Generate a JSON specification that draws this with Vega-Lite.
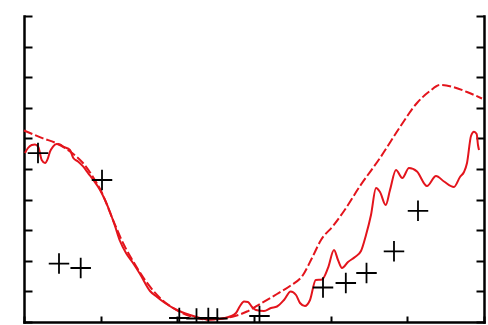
{
  "$schema": "https://vega.github.io/schema/vega-lite/v6.json",
  "width": 460,
  "height": 306,
  "autosize": {"type": "none"},
  "padding": {"left": 24, "top": 16, "right": 4, "bottom": 3},
  "background": "white",
  "config": {
    "view": {"stroke": null},
    "axis": {"labels": false, "title": null, "grid": false, "domainColor": "black", "domainWidth": 2.5, "tickColor": "black", "tickWidth": 2, "domainCap": "square"}
  },
  "datasets": {
    "dashed": [
      {"x": 0, "y": 6.258}, {"x": 0.496, "y": 6.003}, {"x": 0.861, "y": 5.833}, {"x": 1.2, "y": 5.572},
      {"x": 1.539, "y": 5.196}, {"x": 1.8, "y": 4.739}, {"x": 2.035, "y": 4.216}, {"x": 2.322, "y": 3.333},
      {"x": 2.583, "y": 2.582}, {"x": 2.843, "y": 1.993}, {"x": 3.157, "y": 1.373}, {"x": 3.47, "y": 0.882},
      {"x": 3.887, "y": 0.458}, {"x": 4.33, "y": 0.196}, {"x": 4.774, "y": 0.082}, {"x": 5.165, "y": 0.114},
      {"x": 5.504, "y": 0.196}, {"x": 5.817, "y": 0.343}, {"x": 6.157, "y": 0.588}, {"x": 6.6, "y": 0.915},
      {"x": 6.939, "y": 1.176}, {"x": 7.278, "y": 1.536}, {"x": 7.513, "y": 2.092}, {"x": 7.748, "y": 2.68},
      {"x": 8.061, "y": 3.137}, {"x": 8.348, "y": 3.627}, {"x": 8.765, "y": 4.444}, {"x": 9.287, "y": 5.359},
      {"x": 9.809, "y": 6.373}, {"x": 10.252, "y": 7.157}, {"x": 10.591, "y": 7.549}, {"x": 10.852, "y": 7.745},
      {"x": 11.191, "y": 7.68}, {"x": 11.557, "y": 7.516}, {"x": 11.948, "y": 7.304}
    ],
    "solid": [
      {"x": 0.026, "y": 5.523}, {"x": 0.104, "y": 5.686}, {"x": 0.201, "y": 5.784}, {"x": 0.287, "y": 5.801},
      {"x": 0.373, "y": 5.719}, {"x": 0.462, "y": 5.294}, {"x": 0.548, "y": 5.196}, {"x": 0.626, "y": 5.359},
      {"x": 0.678, "y": 5.565}, {"x": 0.757, "y": 5.735}, {"x": 0.853, "y": 5.817}, {"x": 0.939, "y": 5.801},
      {"x": 1.025, "y": 5.729}, {"x": 1.2, "y": 5.621}, {"x": 1.286, "y": 5.359}, {"x": 1.417, "y": 5.239},
      {"x": 1.547, "y": 5.075}, {"x": 1.677, "y": 4.859}, {"x": 1.808, "y": 4.641}, {"x": 1.983, "y": 4.314},
      {"x": 2.113, "y": 3.987}, {"x": 2.243, "y": 3.595}, {"x": 2.374, "y": 3.137}, {"x": 2.504, "y": 2.647},
      {"x": 2.661, "y": 2.255}, {"x": 2.843, "y": 1.928}, {"x": 3.026, "y": 1.569}, {"x": 3.287, "y": 1.013},
      {"x": 3.47, "y": 0.817}, {"x": 3.678, "y": 0.621}, {"x": 3.991, "y": 0.392}, {"x": 4.33, "y": 0.229},
      {"x": 4.591, "y": 0.131}, {"x": 4.852, "y": 0.082}, {"x": 5.113, "y": 0.098}, {"x": 5.374, "y": 0.18},
      {"x": 5.53, "y": 0.294}, {"x": 5.635, "y": 0.523}, {"x": 5.739, "y": 0.67}, {"x": 5.843, "y": 0.654},
      {"x": 5.948, "y": 0.49}, {"x": 6.052, "y": 0.392}, {"x": 6.261, "y": 0.359}, {"x": 6.443, "y": 0.458},
      {"x": 6.6, "y": 0.507}, {"x": 6.783, "y": 0.719}, {"x": 6.957, "y": 0.997}, {"x": 7.096, "y": 0.882},
      {"x": 7.2, "y": 0.621}, {"x": 7.33, "y": 0.523}, {"x": 7.461, "y": 0.719}, {"x": 7.61, "y": 1.373},
      {"x": 7.774, "y": 1.389}, {"x": 7.93, "y": 1.765}, {"x": 8.087, "y": 2.353}, {"x": 8.191, "y": 2.026},
      {"x": 8.296, "y": 1.765}, {"x": 8.452, "y": 1.961}, {"x": 8.635, "y": 2.124}, {"x": 8.791, "y": 2.32},
      {"x": 8.922, "y": 2.843}, {"x": 9.052, "y": 3.497}, {"x": 9.183, "y": 4.379}, {"x": 9.287, "y": 4.248},
      {"x": 9.436, "y": 3.824}, {"x": 9.548, "y": 4.314}, {"x": 9.704, "y": 4.967}, {"x": 9.869, "y": 4.706},
      {"x": 10.043, "y": 5.033}, {"x": 10.252, "y": 4.918}, {"x": 10.513, "y": 4.444}, {"x": 10.748, "y": 4.771},
      {"x": 10.957, "y": 4.592}, {"x": 11.217, "y": 4.412}, {"x": 11.374, "y": 4.739}, {"x": 11.478, "y": 4.902},
      {"x": 11.557, "y": 5.196}, {"x": 11.661, "y": 6.078}, {"x": 11.739, "y": 6.219}, {"x": 11.809, "y": 6.144},
      {"x": 11.843, "y": 5.784}, {"x": 11.87, "y": 5.621}
    ],
    "obs": [
      {"x": 0.365, "y": 5.52}, {"x": 0.913, "y": 1.91}, {"x": 1.479, "y": 1.765}, {"x": 2.035, "y": 4.641},
      {"x": 4.051, "y": 0.131}, {"x": 4.5, "y": 0.114}, {"x": 4.808, "y": 0.131}, {"x": 5.043, "y": 0.114},
      {"x": 6.143, "y": 0.196}, {"x": 7.8, "y": 1.127}, {"x": 8.395, "y": 1.275}, {"x": 8.935, "y": 1.601},
      {"x": 9.652, "y": 2.31}, {"x": 10.278, "y": 3.634}
    ]
  },
  "resolve": {"axis": {"y": "independent"}},
  "layer": [
    {
      "data": {"name": "dashed"},
      "mark": {"type": "line", "color": "#e3141c", "strokeWidth": 2, "strokeDash": [9, 3], "interpolate": "monotone"},
      "encoding": {
        "x": {"field": "x", "type": "quantitative", "scale": {"domain": [0, 12], "nice": false, "zero": false},
              "axis": {"orient": "bottom", "values": [0,1,2,3,4,5,6,7,8,9,10,11,12], "tickSize": -6}},
        "y": {"field": "y", "type": "quantitative", "scale": {"domain": [0, 10], "nice": false, "zero": false},
              "axis": {"orient": "left", "values": [0,1,2,3,4,5,6,7,8,9,10], "tickSize": -8}}
      }
    },
    {
      "data": {"name": "solid"},
      "mark": {"type": "line", "color": "#e3141c", "strokeWidth": 2, "interpolate": "monotone"},
      "encoding": {
        "x": {"field": "x", "type": "quantitative"},
        "y": {"field": "y", "type": "quantitative",
              "axis": {"orient": "right", "values": [0,1,2,3,4,5,6,7,8,9,10], "tickSize": -8}}
      }
    },
    {
      "data": {"name": "obs"},
      "mark": {"type": "point", "shape": "M-1,0L1,0M0,-1L0,1", "size": 420, "stroke": "black", "strokeWidth": 1.8, "filled": false, "opacity": 1, "clip": true},
      "encoding": {
        "x": {"field": "x", "type": "quantitative"},
        "y": {"field": "y", "type": "quantitative", "axis": null}
      }
    }
  ]
}
